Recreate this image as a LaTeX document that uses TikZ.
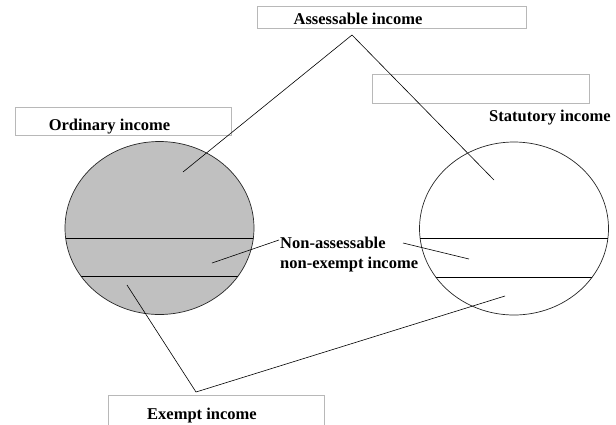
\documentclass[tikz,border=0pt]{standalone}
\usepackage{fontspec}
\setmainfont{Liberation Serif}
\usetikzlibrary{shapes.geometric}
\definecolor{boxgray}{HTML}{B8B8B8}
\definecolor{fillgray}{HTML}{C0C0C0}
\tikzset{
  labelbox/.style={draw=boxgray, line width=0.8pt, inner sep=0pt, anchor=north west},
  lbl/.style={font=\bfseries\fontsize{16.5}{19}\selectfont, inner sep=0pt},
  set/.style={ellipse, draw=black!85, line width=0.7pt, minimum width=189pt, minimum height=173pt, inner sep=0pt},
  conn/.style={draw=black, line width=0.6pt},
  chord/.style={draw=black, line width=0.9pt},
}
\begin{document}
\begin{tikzpicture}[x=1pt,y=-1pt]
\useasboundingbox (0,0) rectangle (616,424);
% label boxes
\node[labelbox, minimum width=269pt, minimum height=22pt] (abox) at (257,6) {};
\node[labelbox, minimum width=217pt, minimum height=29pt] (sbox) at (372,74) {};
\node[labelbox, minimum width=216pt, minimum height=28pt] (obox) at (15,107) {};
\node[labelbox, minimum width=216pt, minimum height=40pt] (ebox) at (108,395) {};
% texts
\node[lbl] (atext) at (358,19) {Assessable income};
\node[lbl] (otext) at (109.5,127) {Ordinary income};
\node[lbl, anchor=west] (stext) at (489,118) {Statutory income};
\node[lbl, anchor=north west, align=left, font=\bfseries\fontsize{16.5}{20}\selectfont] (ntext) at (280,237) {Non-assessable\\non-exempt income};
\node[lbl] (etext) at (202,416) {Exempt income};
% sets
\node[set, fill=fillgray] (ord) at (159.5,228) {};
\node[set] (stat) at (514,228.5) {};
\begin{scope}
  \clip (159.5,228) ellipse [x radius=94.5, y radius=86.5];
  \draw[chord] (60,238.5) -- (260,238.5);
  \draw[chord] (60,276) -- (260,276);
\end{scope}
\begin{scope}
  \clip (514,228.5) ellipse [x radius=94.5, y radius=86.5];
  \draw[chord] (410,238.5) -- (612,238.5);
  \draw[chord] (410,277) -- (612,277);
\end{scope}
% connector points
\coordinate (apex) at (352,35);
\coordinate (aL) at (183,172);
\coordinate (aR) at (494,180);
\coordinate (nL) at (212,263);
\coordinate (nLt) at (279,240);
\coordinate (nR) at (469,259);
\coordinate (nRt) at (403,243);
\coordinate (eL) at (127,285);
\coordinate (eapex) at (196,392);
\coordinate (eR) at (505,296);
% connectors
\draw[conn] (aL) -- (apex) -- (aR);
\draw[conn] (nL) -- (nLt);
\draw[conn] (nRt) -- (nR);
\draw[conn] (eL) -- (eapex) -- (eR);
\end{tikzpicture}
\end{document}
